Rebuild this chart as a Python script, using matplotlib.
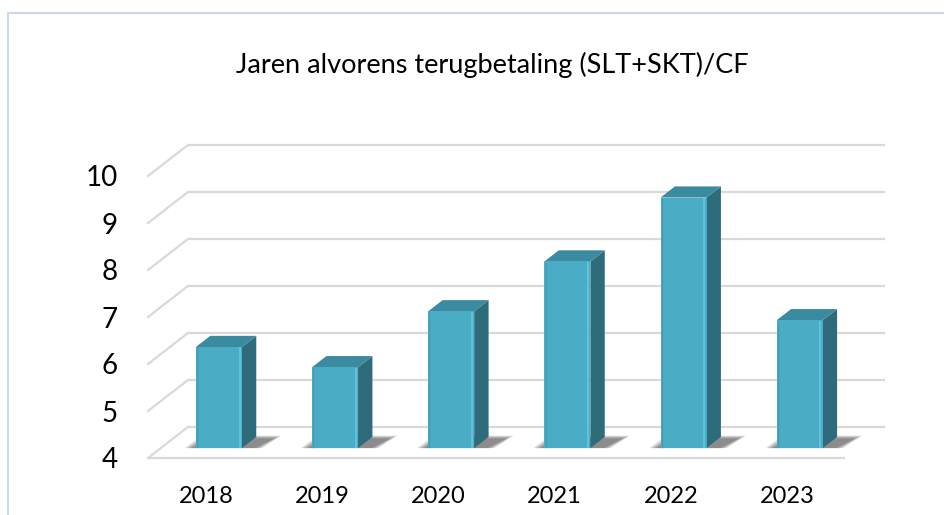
"""
3D-style column chart: Jaren alvorens terugbetaling (SLT+SKT)/CF
"""

################################################################################
#
# import modules
#
import matplotlib
matplotlib.use('Agg')
import matplotlib.pyplot as plt
from matplotlib.patches import Polygon
from matplotlib.lines import Line2D

################################################################################
#
# data
years = ['2018', '2019', '2020', '2021', '2022', '2023']
values = [6.15, 5.72, 6.91, 7.97, 9.33, 6.72]
yticks = [4, 5, 6, 7, 8, 9, 10]
title = 'Jaren alvorens terugbetaling (SLT+SKT)/CF'

################################################################################
#
# look of the fake 3D box
DX, DY = 0.344, 0.66        # offset of the back wall (data units)
ZF, ZB = 0.32, 0.68         # depth of bar front / back (fraction of floor)
BW = 0.396                  # bar width
grid_c = '#D9D9D9'
front_c = '#4BACC6'
top_c = '#3A8B9F'
side_c = '#2E6C7B'

plt.rcParams['font.family'] = ['Lato', 'DejaVu Sans']

W, H = 944, 515
fig = plt.figure(figsize=(W / 100, H / 100), dpi=100)
ax = fig.add_axes([148 / W, 57 / H, 697 / W, 282 / H])
ax.set_xlim(-0.5, 5.5)
ax.set_ylim(4, 10)
for s in ax.spines.values():
    s.set_visible(False)
ax.set_facecolor('none')

################################################################################
#
# walls and floor
x0, x1 = -0.5, len(years) - 0.5
for v in yticks:
    ax.plot([x0 + DX, x1 + DX], [v + DY, v + DY], color=grid_c, lw=1.6,
            clip_on=False, zorder=1, solid_capstyle='butt')
    ax.plot([x0, x0 + DX], [v, v + DY], color=grid_c, lw=1.6,
            clip_on=False, zorder=1)
ax.plot([x0, x1], [yticks[0], yticks[0]], color=grid_c, lw=1.6,
        clip_on=False, zorder=1, solid_capstyle='butt')

################################################################################
#
# bars
ddx, ddy = (ZB - ZF) * DX, (ZB - ZF) * DY
base = yticks[0] + ZF * DY
for i, v in enumerate(values):
    xc = i + ZF * DX
    xl, xr = xc - BW / 2, xc + BW / 2
    yt = v + ZF * DY

    # soft shadow on the floor
    for k in range(7):
        m = 0.011 * (7 - k)
        ax.add_patch(Polygon([(xl - 0.02 - m, base), (xr + 0.1 + m, base),
                              (xr + ddx + 0.14 + m, base + ddy * 0.8 + m),
                              (xl + ddx - m, base + ddy * 0.8 + m)],
                             closed=True, fc='#2a2a2a', ec='none',
                             alpha=0.1, zorder=2, clip_on=False))

    ax.add_patch(Polygon([(xr, base), (xr + ddx, base + ddy),
                          (xr + ddx, yt + ddy), (xr, yt)],
                         fc=side_c, ec='none', zorder=3, clip_on=False))
    ax.add_patch(Polygon([(xl, yt), (xr, yt), (xr + ddx, yt + ddy),
                          (xl + ddx, yt + ddy)],
                         fc=top_c, ec='none', zorder=3, clip_on=False))
    ax.add_patch(Polygon([(xl, base), (xr, base), (xr, yt), (xl, yt)],
                         fc=front_c, ec='none', zorder=4, clip_on=False))
    # bevel highlight on the front face
    ax.plot([xr - 0.02, xr - 0.02], [base + 0.03, yt - 0.03], color='#5FC3DA',
            lw=1.5, zorder=5, clip_on=False)
    ax.plot([xl + 0.01, xl + 0.01], [base + 0.03, yt - 0.03], color='#3F9DB6',
            lw=1.0, zorder=5, clip_on=False)

################################################################################
#
# ticks and labels
ax.set_xticks(range(len(years)))
ax.set_xticklabels(years, fontsize=17)
ax.set_yticks(yticks)
ax.set_yticklabels([str(t) for t in yticks], fontsize=20)
ax.tick_params(axis='x', length=0, pad=20)
ax.tick_params(axis='y', length=0, pad=22)

fig.text(492 / W, 1 - 73 / H, title, ha='center', va='baseline', fontsize=19.5)

# chart border (only left and top are inside the picture)
fig.add_artist(Line2D([7.5 / W, 7.5 / W, 1], [0, 1 - 12.5 / H, 1 - 12.5 / H],
                      color='#C6D9F1', lw=1.5))

fig.savefig('out.png', dpi=100, facecolor='white')
